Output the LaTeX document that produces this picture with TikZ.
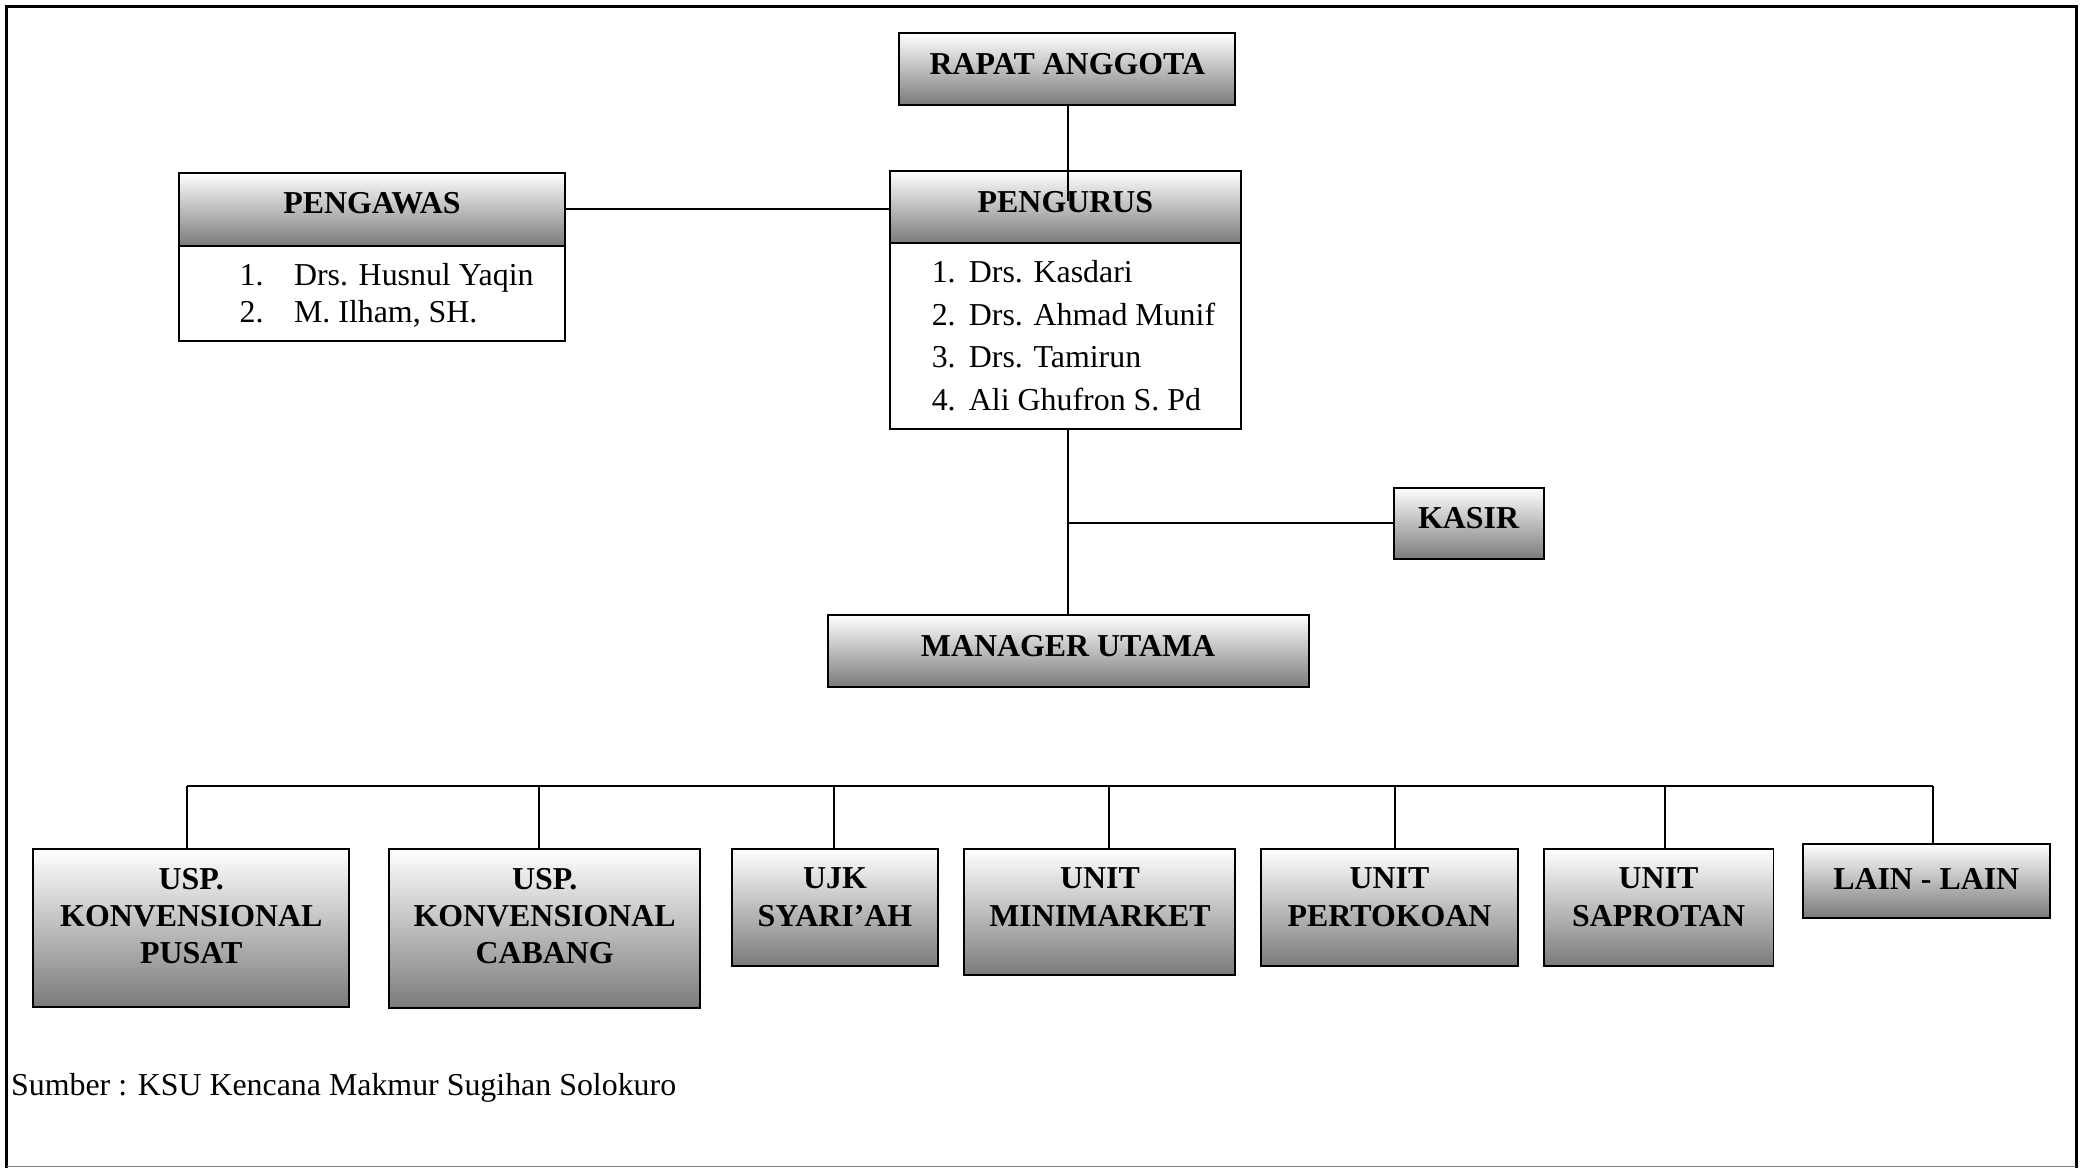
\documentclass[tikz,border=0pt]{standalone}
\usepackage{fontspec}
\setmainfont{Liberation Serif}
\usetikzlibrary{fit}
\begin{document}
\begin{tikzpicture}[x=0.5pt,y=-0.5pt,
  gbox/.style={draw=black, line width=0.75pt, top color=white, bottom color=black!52, inner sep=0pt},
  wbox/.style={draw=black, line width=0.75pt, fill=white, inner sep=0pt},
  hdtxt/.style={font=\bfseries\fontsize{12}{14}\selectfont, align=center, inner sep=0pt},
  lsttxt/.style={font=\fontsize{12}{14}\selectfont, inner sep=0pt, anchor=base west},
  conn/.style={line width=0.75pt, draw=black}]
\useasboundingbox (0,0) rectangle (1568,879);
% frame
\draw[line width=1.2pt] (5,879) -- (5,5) -- (1563,5) -- (1563,879);
\draw[gray, line width=0.5pt] (5,878) -- (1563,878);

% RAPAT ANGGOTA
\node[gbox, fit={(677,25) (930,79)}] (rapat) {};
\node[hdtxt] (rapatT) at (803.5,48) {RAPAT ANGGOTA};

% PENGAWAS
\node[wbox, fit={(135,130) (425,257)}] (pgw) {};
\node[gbox, fit={(135,130) (425,185)}] (pgwH) {};
\node[hdtxt] (pgwT) at (280,153) {PENGAWAS};
\node[lsttxt] (pgw1) at (180,215) {\makebox[20.5pt][l]{1.}Drs. Husnul Yaqin};
\node[lsttxt] (pgw2) at (180,243) {\makebox[20.5pt][l]{2.}M. Ilham, SH.};

% PENGURUS
\node[wbox, fit={(670,129) (934,323)}] (pgr) {};
\node[gbox, fit={(670,129) (934,183)}] (pgrH) {};
\node[hdtxt] (pgrT) at (802,152) {PENGURUS};
\node[lsttxt] (pgr1) at (701,213) {\makebox[14pt][l]{1.}Drs. Kasdari};
\node[lsttxt] (pgr2) at (701,245) {\makebox[14pt][l]{2.}Drs. Ahmad Munif};
\node[lsttxt] (pgr3) at (701,277) {\makebox[14pt][l]{3.}Drs. Tamirun};
\node[lsttxt] (pgr4) at (701,309) {\makebox[14pt][l]{4.}Ali Ghufron S. Pd};

% KASIR
\node[gbox, fit={(1049,367) (1162,421)}] (kasir) {};
\node[hdtxt] (kasirT) at (1105.5,390) {KASIR};

% MANAGER UTAMA
\node[gbox, fit={(623,463) (985,517)}] (mgr) {};
\node[hdtxt] (mgrT) at (804,486) {MANAGER UTAMA};

% bottom units
\node[gbox, fit={(25,639) (263,758)}] (b1) {};
\node[hdtxt, anchor=north] (b1T) at (144,653) {USP.\\KONVENSIONAL\\PUSAT};
\node[gbox, fit={(293,639) (527,759)}] (b2) {};
\node[hdtxt, anchor=north] (b2T) at (410,653) {USP.\\KONVENSIONAL\\CABANG};
\node[gbox, fit={(551,639) (706,727)}] (b3) {};
\node[hdtxt, anchor=north] (b3T) at (628.5,653) {UJK\\SYARI’AH};
\node[gbox, fit={(726,639) (930,734)}] (b4) {};
\node[hdtxt, anchor=north] (b4T) at (828,653) {UNIT\\MINIMARKET};
\node[gbox, fit={(949,639) (1143,727)}] (b5) {};
\node[hdtxt, anchor=north] (b5T) at (1046,653) {UNIT\\PERTOKOAN};
\node[gbox, fit={(1162,639) (1335,727)}] (b6) {};
\node[hdtxt, anchor=north] (b6T) at (1248.5,653) {UNIT\\SAPROTAN};
\node[gbox, fit={(1357,635) (1543,691)}] (b7) {};
\node[hdtxt, anchor=north] (b7T) at (1450,653) {LAIN - LAIN};

% source
\node[lsttxt] (src) at (8,825) {Sumber : KSU Kencana Makmur Sugihan Solokuro};

% connectors
\coordinate (pgrEnd) at (804,151);
\draw[conn] (rapat.south -| pgrEnd) -- (pgrEnd);
\draw[conn] (pgwH.east) -- (pgwH.east -| pgrH.west);
\draw[conn] (mgr.north) -- (mgr.north |- pgr.south);
\draw[conn] (kasir.west) -- (kasir.west -| mgr.north);

\coordinate (d1) at (141,592);
\coordinate (d2) at (406,592);
\coordinate (d3) at (628,592);
\coordinate (d4) at (835,592);
\coordinate (d5) at (1050,592);
\coordinate (d6) at (1253,592);
\coordinate (d7) at (1455,592);
\draw[conn] (d1) -- (d7);
\foreach \i in {1,...,7} {
  \draw[conn] (d\i) -- (d\i |- b\i.north);
}
\end{tikzpicture}
\end{document}
